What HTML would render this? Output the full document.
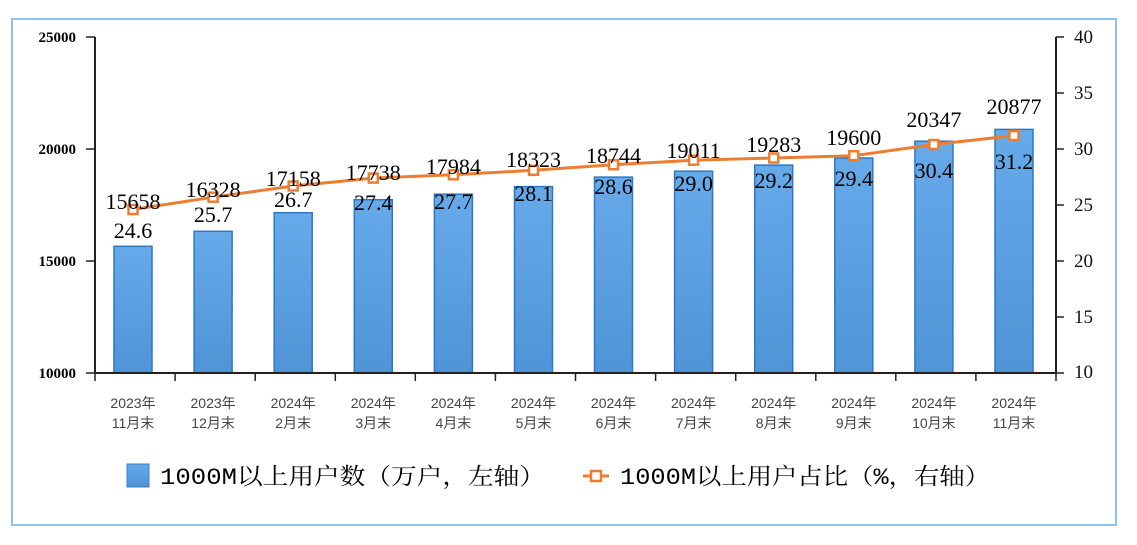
<!DOCTYPE html>
<html><head><meta charset="utf-8"><style>
body{margin:0;background:#fff}
svg{display:block}
.v{font-family:"Liberation Serif","Noto Serif CJK SC",serif;font-size:22px;fill:#000;text-anchor:middle}
.x{font-family:"Liberation Sans","Noto Sans CJK SC",sans-serif;font-size:14px;fill:#444;text-anchor:middle}
.b{fill:url(#g);stroke:#2f78c0;stroke-width:1.5}
.m{fill:#fff;stroke:#ed7d31;stroke-width:2.5}
</style></head><body>
<svg width="1137" height="545" viewBox="0 0 1137 545" xmlns="http://www.w3.org/2000/svg">
<defs><linearGradient id="g" x1="0" y1="0" x2="0" y2="1"><stop offset="0" stop-color="#66aaea"/><stop offset="1" stop-color="#4f94d6"/></linearGradient></defs>
<rect x="12" y="19" width="1104" height="506" fill="none" stroke="#8cc4ee" stroke-width="2"/>
<rect class="b" x="114" y="246.3" width="38" height="126.7"/>
<rect class="b" x="194.1" y="231.3" width="38" height="141.7"/>
<rect class="b" x="274.2" y="212.7" width="38" height="160.3"/>
<rect class="b" x="354.3" y="199.7" width="38" height="173.3"/>
<rect class="b" x="434.4" y="194.2" width="38" height="178.8"/>
<rect class="b" x="514.5" y="186.6" width="38" height="186.4"/>
<rect class="b" x="594.5" y="177.1" width="38" height="195.9"/>
<rect class="b" x="674.6" y="171.2" width="38" height="201.8"/>
<rect class="b" x="754.7" y="165.1" width="38" height="207.9"/>
<rect class="b" x="834.8" y="158" width="38" height="215"/>
<rect class="b" x="914.9" y="141.2" width="38" height="231.8"/>
<rect class="b" x="995" y="129.4" width="38" height="243.6"/>
<g stroke="#222" stroke-width="2" fill="none">
<line x1="95" y1="37" x2="95" y2="374"/><line x1="1056" y1="37" x2="1056" y2="374"/><line x1="94" y1="373" x2="1057" y2="373"/>
</g>
<g stroke="#222" stroke-width="1.5">
<line x1="95" y1="373" x2="95" y2="381"/><line x1="175.1" y1="373" x2="175.1" y2="381"/><line x1="255.2" y1="373" x2="255.2" y2="381"/><line x1="335.3" y1="373" x2="335.3" y2="381"/><line x1="415.3" y1="373" x2="415.3" y2="381"/><line x1="495.4" y1="373" x2="495.4" y2="381"/><line x1="575.5" y1="373" x2="575.5" y2="381"/><line x1="655.6" y1="373" x2="655.6" y2="381"/><line x1="735.7" y1="373" x2="735.7" y2="381"/><line x1="815.8" y1="373" x2="815.8" y2="381"/><line x1="895.8" y1="373" x2="895.8" y2="381"/><line x1="975.9" y1="373" x2="975.9" y2="381"/><line x1="1056" y1="373" x2="1056" y2="381"/>
<line x1="86" y1="37" x2="95" y2="37"/><line x1="86" y1="149" x2="95" y2="149"/><line x1="86" y1="261" x2="95" y2="261"/><line x1="86" y1="373" x2="95" y2="373"/>
<line x1="1056" y1="37" x2="1064" y2="37"/><line x1="1056" y1="93" x2="1064" y2="93"/><line x1="1056" y1="149" x2="1064" y2="149"/><line x1="1056" y1="205" x2="1064" y2="205"/><line x1="1056" y1="261" x2="1064" y2="261"/><line x1="1056" y1="317" x2="1064" y2="317"/><line x1="1056" y1="373" x2="1064" y2="373"/>
</g>
<polyline points="133,209.5 213.1,197.2 293.2,186 373.3,178.1 453.4,174.8 533.5,170.3 613.5,164.7 693.6,160.2 773.7,158 853.8,155.7 933.9,144.5 1014,135.6" fill="none" stroke="#ed7d31" stroke-width="3"/>
<rect class="m" x="128.5" y="205" width="9" height="9"/><rect class="m" x="208.6" y="192.7" width="9" height="9"/><rect class="m" x="288.7" y="181.5" width="9" height="9"/><rect class="m" x="368.8" y="173.6" width="9" height="9"/><rect class="m" x="448.9" y="170.3" width="9" height="9"/><rect class="m" x="529" y="165.8" width="9" height="9"/><rect class="m" x="609" y="160.2" width="9" height="9"/><rect class="m" x="689.1" y="155.7" width="9" height="9"/><rect class="m" x="769.2" y="153.5" width="9" height="9"/><rect class="m" x="849.3" y="151.2" width="9" height="9"/><rect class="m" x="929.4" y="140" width="9" height="9"/><rect class="m" x="1009.5" y="131.1" width="9" height="9"/>
<g class="v">
<text class="v" x="133" y="209">15658</text><text class="v" x="133" y="238">24.6</text>
<text class="v" x="213.1" y="197">16328</text><text class="v" x="213.1" y="222">25.7</text>
<text class="v" x="293.2" y="186">17158</text><text class="v" x="293.2" y="207">26.7</text>
<text class="v" x="373.3" y="180">17738</text><text class="v" x="373.3" y="210">27.4</text>
<text class="v" x="453.4" y="174">17984</text><text class="v" x="453.4" y="209">27.7</text>
<text class="v" x="533.5" y="167">18323</text><text class="v" x="533.5" y="201">28.1</text>
<text class="v" x="613.5" y="163">18744</text><text class="v" x="613.5" y="194">28.6</text>
<text class="v" x="693.6" y="158">19011</text><text class="v" x="693.6" y="191">29.0</text>
<text class="v" x="773.7" y="152">19283</text><text class="v" x="773.7" y="188">29.2</text>
<text class="v" x="853.8" y="145">19600</text><text class="v" x="853.8" y="186">29.4</text>
<text class="v" x="933.9" y="127">20347</text><text class="v" x="933.9" y="178">30.4</text>
<text class="v" x="1014" y="114">20877</text><text class="v" x="1014" y="169">31.2</text>
</g>
<text class="x" x="133" y="408">2023年</text><text class="x" x="133" y="428">11月末</text>
<text class="x" x="213.1" y="408">2023年</text><text class="x" x="213.1" y="428">12月末</text>
<text class="x" x="293.2" y="408">2024年</text><text class="x" x="293.2" y="428">2月末</text>
<text class="x" x="373.3" y="408">2024年</text><text class="x" x="373.3" y="428">3月末</text>
<text class="x" x="453.4" y="408">2024年</text><text class="x" x="453.4" y="428">4月末</text>
<text class="x" x="533.5" y="408">2024年</text><text class="x" x="533.5" y="428">5月末</text>
<text class="x" x="613.5" y="408">2024年</text><text class="x" x="613.5" y="428">6月末</text>
<text class="x" x="693.6" y="408">2024年</text><text class="x" x="693.6" y="428">7月末</text>
<text class="x" x="773.7" y="408">2024年</text><text class="x" x="773.7" y="428">8月末</text>
<text class="x" x="853.8" y="408">2024年</text><text class="x" x="853.8" y="428">9月末</text>
<text class="x" x="933.9" y="408">2024年</text><text class="x" x="933.9" y="428">10月末</text>
<text class="x" x="1014" y="408">2024年</text><text class="x" x="1014" y="428">11月末</text>
<g font-family="Liberation Serif" font-weight="bold" font-size="15" text-anchor="end">
<text x="76" y="42">25000</text><text x="76" y="154">20000</text><text x="76" y="266">15000</text><text x="76" y="378">10000</text></g>
<g font-family="Liberation Serif" font-size="19" fill="#111">
<text x="1074" y="43">40</text><text x="1074" y="99">35</text><text x="1074" y="155">30</text><text x="1074" y="211">25</text><text x="1074" y="267">20</text><text x="1074" y="323">15</text><text x="1074" y="378">10</text></g>
<rect x="127" y="464" width="22" height="23" fill="url(#g)" stroke="#3a80c8"/>
<text x="160" y="484" font-family="Liberation Mono,'Noto Serif CJK SC',serif" font-size="23" textLength="385" lengthAdjust="spacingAndGlyphs">1000M以上用户数（万户，左轴）</text>
<line x1="583" y1="476" x2="609" y2="476" stroke="#ed7d31" stroke-width="3"/>
<rect x="591" y="471" width="10" height="10" fill="#fff" stroke="#ed7d31" stroke-width="2.5"/>
<text x="620" y="484" font-family="Liberation Mono,'Noto Serif CJK SC',serif" font-size="23" textLength="370" lengthAdjust="spacingAndGlyphs">1000M以上用户占比（%，右轴）</text>
</svg>
</body></html>
